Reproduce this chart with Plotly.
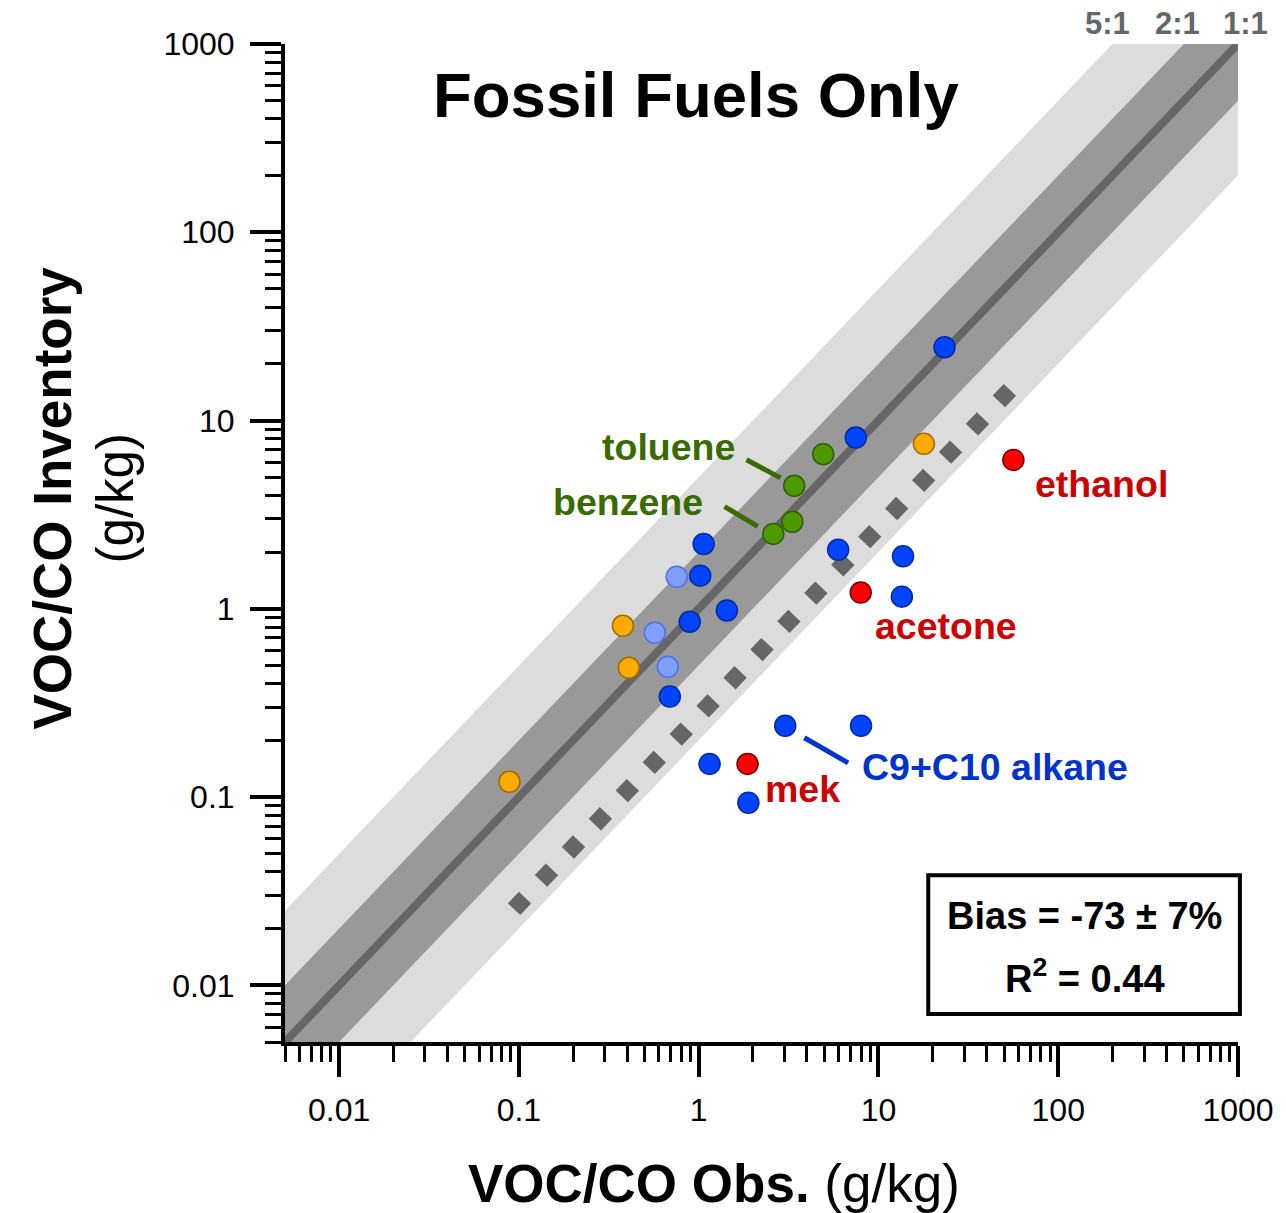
import numpy as np
import plotly.graph_objects as go

FONT = "Liberation Sans, Arial, sans-serif"

# ---------------- data (g/kg) ----------------
orange_obs = [0.0886, 0.379, 0.409, 17.9]
orange_inv = [0.1205, 0.812, 0.486, 7.52]

lightblue_obs = [0.755, 0.570, 0.673]
lightblue_inv = [1.48, 0.746, 0.492]

blue_obs = [1.066, 1.02, 0.892, 1.435, 0.691, 7.48, 5.97, 23.3, 13.7, 13.5, 3.03, 8.0, 1.15, 1.89]
blue_inv = [2.21, 1.50, 0.853, 0.98, 0.342, 8.12, 2.06, 24.5, 1.90, 1.16, 0.239, 0.239, 0.150, 0.0933]

green_obs = [4.93, 3.40, 3.32, 2.60]
green_inv = [6.63, 4.50, 2.90, 2.50]

red_names = ["ethanol", "acetone", "mek"]
red_obs = [56.3, 7.97, 1.87]
red_inv = [6.18, 1.22, 0.150]

# reference bands (ratio) and fit
band_ratios = [5, 2]
band_labels = ["5:1", "2:1", "1:1"]
fit_ratio = 0.27          # bias -73 %
fit_obs_range = [0.094, 54.0]

axis_min, axis_max = 0.005, 1000.0
tick_vals = [0.01, 0.1, 1, 10, 100, 1000]

fig = go.Figure()

# bands
band_colors = {5: "#DCDCDC", 2: "#999999"}
xs_band = [1e-4, axis_max]
for r in band_ratios:
    bx = [xs_band[0], xs_band[1], xs_band[1], xs_band[0]]
    by = [xs_band[0] * r, xs_band[1] * r, xs_band[1] / r, xs_band[0] / r]
    fig.add_trace(go.Scatter(x=bx, y=by, mode="lines", fill="toself",
                             fillcolor=band_colors[r], line=dict(width=0),
                             hoverinfo="skip"))

# 1:1 line
fig.add_trace(go.Scatter(x=xs_band, y=xs_band, mode="lines",
                         line=dict(color="#666666", width=8), hoverinfo="skip"))

# fit line
fx = fit_obs_range
fy = [v * fit_ratio for v in fit_obs_range]
fig.add_trace(go.Scatter(x=fx, y=fy, mode="lines",
                         line=dict(color="#666666", width=17, dash="16px,23px"),
                         hoverinfo="skip"))

def pts(x, y, fill, edge):
    fig.add_trace(go.Scatter(x=x, y=y, mode="markers",
                             marker=dict(size=21, color=fill,
                                         line=dict(color=edge, width=1.5))))

pts(orange_obs, orange_inv, "#FFAA00", "#A06A00")
pts(lightblue_obs, lightblue_inv, "#80A0FF", "#4D70EE")
pts(blue_obs, blue_inv, "#0044FF", "#002A9E")
pts(green_obs, green_inv, "#4C9900", "#2D5E00")
pts(red_obs, red_inv, "#FF0000", "#700000")

# leader lines (data units)
GREEN_TXT = "#3A6A00"
RED_TXT = "#CC0000"
BLUE_TXT = "#0033CC"
leaders = [
    ([1.845, 2.85], [6.19, 4.96], GREEN_TXT),
    ([1.393, 2.13], [3.49, 2.74], GREEN_TXT),
    ([3.87, 6.78], [0.2065, 0.152], BLUE_TXT),
]
for lx, ly, c in leaders:
    fig.add_trace(go.Scatter(x=lx, y=ly, mode="lines",
                             line=dict(color=c, width=5), hoverinfo="skip"))

lab = np.log10
labels = [
    ("toluene", 1.64, 7.25, "right", GREEN_TXT),
    ("benzene", 1.08, 3.70, "right", GREEN_TXT),
    ("ethanol", 72.7, 4.61, "left", RED_TXT),
    ("acetone", 9.32, 0.812, "left", RED_TXT),
    ("mek", 2.29, 0.111, "left", RED_TXT),
    ("C9+C10 alkane", 7.90, 0.145, "left", BLUE_TXT),
]
for t, x, y, anc, c in labels:
    fig.add_annotation(x=lab(x), y=lab(y), xref="x", yref="y", text=f"<b>{t}</b>",
                       showarrow=False, xanchor=anc, yanchor="middle",
                       font=dict(family=FONT, size=37.5, color=c))

# title
fig.add_annotation(x=0.4316, y=0.949, xref="paper", yref="paper",
                   text="<b>Fossil Fuels Only</b>", showarrow=False,
                   xanchor="center", yanchor="middle",
                   font=dict(family=FONT, size=63.5, color="black"))

# band labels
for t, px in zip(band_labels, [0.863, 0.936, 1.008]):
    fig.add_annotation(x=px, y=1.021, xref="paper", yref="paper",
                       text=f"<b>{t}</b>", showarrow=False,
                       xanchor="center", yanchor="middle",
                       font=dict(family=FONT, size=31, color="#666666"))

# stats box
fig.add_shape(type="rect", xref="paper", yref="paper",
              x0=0.675, x1=1.002, y0=0.028, y1=0.167,
              line=dict(color="black", width=4), fillcolor="white", layer="above")
fig.add_annotation(x=0.839, y=0.126, xref="paper", yref="paper",
                   text="<b>Bias = -73 ± 7%</b>", showarrow=False,
                   xanchor="center", yanchor="middle",
                   font=dict(family=FONT, size=38, color="black"))
fig.add_annotation(x=0.839, y=0.066, xref="paper", yref="paper",
                   text="<b>R<sup>2</sup> = 0.44</b>", showarrow=False,
                   xanchor="center", yanchor="middle",
                   font=dict(family=FONT, size=38, color="black"))

# axis titles
fig.add_annotation(x=0.450, y=-0.142, xref="paper", yref="paper",
                   text="<b>VOC/CO Obs.</b> (g/kg)", showarrow=False,
                   xanchor="center", yanchor="middle",
                   font=dict(family=FONT, size=53, color="black"))
fig.add_annotation(x=-0.244, y=0.545, xref="paper", yref="paper",
                   text="<b>VOC/CO Inventory</b>", showarrow=False, textangle=-90,
                   xanchor="center", yanchor="middle",
                   font=dict(family=FONT, size=53, color="black"))
fig.add_annotation(x=-0.178, y=0.545, xref="paper", yref="paper",
                   text="(g/kg)", showarrow=False, textangle=-90,
                   xanchor="center", yanchor="middle",
                   font=dict(family=FONT, size=51, color="black"))

axis_common = dict(
    type="log", range=[np.log10(axis_min), np.log10(axis_max)],
    tickmode="array", tickvals=tick_vals,
    ticktext=[str(v) for v in tick_vals],
    ticks="outside", ticklen=31, tickwidth=4, tickcolor="black",
    showline=True, linewidth=4, linecolor="black",
    showgrid=False, zeroline=False,
    minor=dict(ticks="outside", ticklen=16, tickwidth=3, tickcolor="black",
               dtick="D1", showgrid=False),
    tickfont=dict(family=FONT, size=32, color="black"),
)
fig.update_xaxes(**axis_common, ticklabelstandoff=6)
fig.update_yaxes(**axis_common, ticklabelstandoff=9)

fig.update_layout(
    width=1286, height=1213,
    margin=dict(l=285, r=42, t=44, b=171),
    paper_bgcolor="white", plot_bgcolor="white",
    showlegend=False,
)

fig.write_html("out.html")
